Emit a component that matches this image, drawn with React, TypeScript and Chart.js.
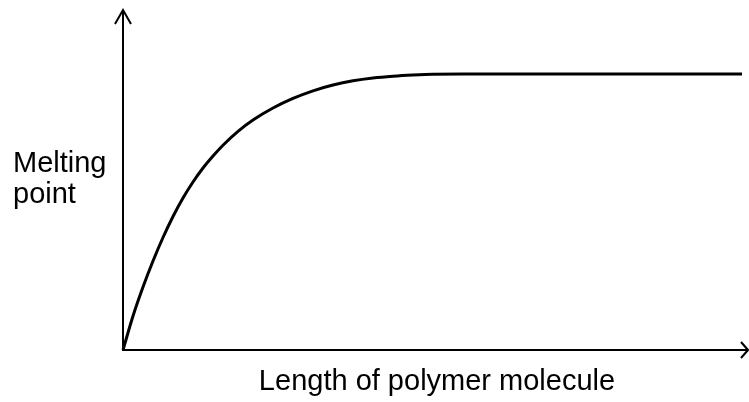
import React, { useEffect, useRef } from "react";
import { Chart, registerables } from "chart.js";

Chart.register(...registerables);

// Length of polymer molecule (arbitrary units)
const lengths = [0, 10, 20, 30, 40, 50, 60, 70, 80, 90, 100, 115, 130, 150, 170, 190, 210, 230, 250, 270, 290, 310, 340, 619];
// Melting point (arbitrary units)
const meltingPoints = [0, 34, 63, 89, 112.5, 133.5, 152, 168, 182, 194, 204.8, 218.7, 230, 242, 251.6, 259.2, 265, 269.2, 272, 273.8, 275, 275.8, 276, 276];

const xMax = 625;
const yMax = 340;
const xTitle = "Length of polymer molecule";
const yTitleLines = ["Melting", "point"];

const FONT = '29px "Liberation Sans", Arial, sans-serif';

const axesPlugin = {
  id: "axesArrows",
  afterDraw(chart: any) {
    const { ctx, chartArea } = chart;
    const { left, right, top, bottom } = chartArea;
    ctx.save();
    ctx.strokeStyle = "#000";
    ctx.lineWidth = 2;
    ctx.lineCap = "butt";
    // y axis
    ctx.beginPath();
    ctx.moveTo(left, bottom + 1);
    ctx.lineTo(left, top);
    ctx.stroke();
    ctx.beginPath();
    ctx.moveTo(left - 8, top + 14);
    ctx.lineTo(left, top);
    ctx.lineTo(left + 8, top + 14);
    ctx.stroke();
    // x axis
    ctx.beginPath();
    ctx.moveTo(left, bottom);
    ctx.lineTo(right, bottom);
    ctx.stroke();
    ctx.beginPath();
    ctx.moveTo(right - 7, bottom - 8);
    ctx.lineTo(right, bottom);
    ctx.lineTo(right - 7, bottom + 8);
    ctx.stroke();
    // titles
    ctx.fillStyle = "#000";
    ctx.font = FONT;
    ctx.textBaseline = "alphabetic";
    ctx.textAlign = "left";
    ctx.fillText(yTitleLines[0], 13, 172);
    ctx.fillText(yTitleLines[1], 13, 203);
    ctx.textAlign = "center";
    ctx.fillText(xTitle, 437, 390);
    ctx.restore();
  },
};

export default function App() {
  const ref = useRef<HTMLCanvasElement>(null);
  useEffect(() => {
    document.body.style.margin = "0";
    const chart = new Chart(ref.current!, {
      type: "line",
      data: {
        datasets: [
          {
            data: lengths.map((x, i) => ({ x, y: meltingPoints[i] })),
            borderColor: "#000",
            borderWidth: 3,
            pointRadius: 0,
            cubicInterpolationMode: "monotone",
            fill: false,
            clip: false as any,
          },
        ],
      },
      options: {
        animation: false,
        responsive: false,
        layout: { padding: { left: 123, right: 1, top: 10, bottom: 52 } },
        plugins: { legend: { display: false }, tooltip: { enabled: false } },
        scales: {
          x: { type: "linear", min: 0, max: xMax, display: false },
          y: { type: "linear", min: 0, max: yMax, display: false },
        },
      },
      plugins: [axesPlugin],
    });
    return () => chart.destroy();
  }, []);
  return (
    <div style={{ position: "absolute", left: 0, top: 0, width: 749, height: 402, background: "#fff" }}>
      <canvas ref={ref} width={749} height={402} />
    </div>
  );
}
